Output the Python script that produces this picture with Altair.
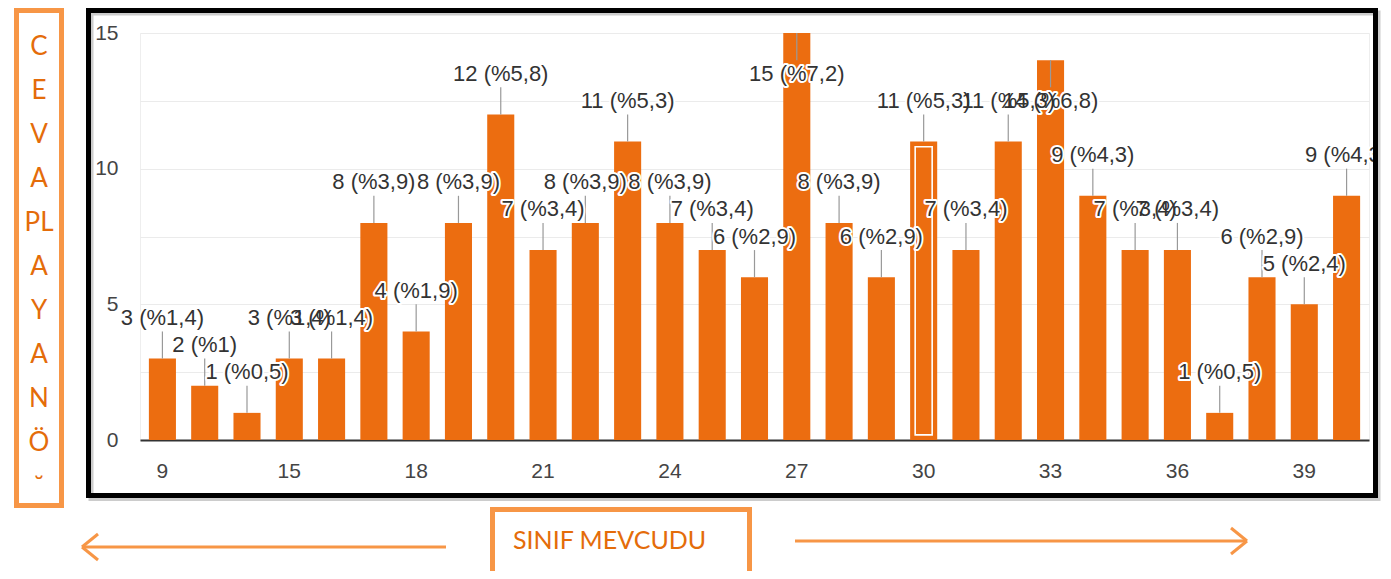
import altair as alt
import pandas as pd

# ---- data ----
categories = ["9", "13", "14", "15", "16", "17", "18", "19", "20", "21", "22", "23", "24", "25",
              "26", "27", "28", "29", "30", "31", "32", "33", "34", "35", "36", "37", "38", "39", "40"]
counts = [3, 2, 1, 3, 3, 8, 4, 8, 12, 7, 8, 11, 8, 7, 6, 15, 8, 6, 11, 7, 11, 14, 9, 7, 7, 1, 6, 5, 9]
tick_labels = ["9", "15", "18", "21", "24", "27", "30", "33", "36", "39"]
highlighted = ["30"]
y_ticks = [0, 2.5, 5, 7.5, 10, 12.5, 15]
side_letters = ["C", "E", "V", "A", "PL", "A", "Y", "A", "N", "Ö", "˘"]
x_title = "SINIF MEVCUDU"

total = sum(counts)


def make_label(v):
    p = round(v / total * 100, 1)
    s = f"{p:.1f}".replace(".", ",")
    if s.endswith(",0"):
        s = s[:-2]
    return f"{v} (%{s})"


df = pd.DataFrame({
    "cat": categories,
    "n": counts,
    "label": [make_label(v) for v in counts],
    "hl": [c in highlighted for c in categories],
})
one = pd.DataFrame({"z": [0]})

BAR = "#ec6d10"
ORANGE_LINE = "#F79646"
ORANGE_TEXT = "#E46C0A"
FONT = "Liberation Sans"

x_enc = alt.X(
    "cat:O", sort=categories,
    scale=alt.Scale(paddingInner=0.36, paddingOuter=0.21),
    axis=alt.Axis(values=tick_labels, title=None, labelAngle=0, labelFontSize=21,
                  labelColor="#444", labelFont=FONT, ticks=False, domainColor="#333",
                  domainWidth=2, labelPadding=20),
)
y_scale = alt.Scale(domain=[0, 15], nice=False, zero=True)
y_axis = alt.Axis(values=y_ticks, labelExpr="datum.value % 5 == 0 ? datum.label : ''",
                  title=None, labelFontSize=21, labelColor="#444", labelFont=FONT,
                  ticks=False, domain=False, gridColor="#ebebeb", gridWidth=1,
                  labelPadding=22)

base = alt.Chart(df).encode(x=x_enc)

bars = base.mark_bar(color=BAR).encode(y=alt.Y("n:Q", scale=y_scale, axis=y_axis))

hl = base.transform_filter("datum.hl").transform_calculate(
    top="datum.n - 0.19", bot="0.19"
).mark_bar(size=17, fillOpacity=0, stroke="white", strokeWidth=1.6).encode(
    y=alt.Y("top:Q", title=None), y2="bot:Q"
)

stems = base.transform_calculate(
    s2="datum.n + 2 <= 15 ? datum.n + 1 : datum.n - 1"
).mark_rule(color="#999999", strokeWidth=1.2).encode(
    y=alt.Y("n:Q", title=None), y2="s2:Q"
)

lab_base = base.transform_calculate(
    ly="datum.n + 2 <= 15 ? datum.n + 1.5 : datum.n - 1.5"
)
halo = lab_base.mark_text(font=FONT, fontSize=22, stroke="white", strokeWidth=4,
                          strokeJoin="round", fill="white", baseline="middle").encode(
    y=alt.Y("ly:Q", title=None), text="label:N"
)
labels = lab_base.mark_text(font=FONT, fontSize=22, fill="#333333", baseline="middle").encode(
    y=alt.Y("ly:Q", title=None), text="label:N"
)

# ---- decorations (pixel positions relative to plot origin) ----
mask = alt.Chart(one).mark_rect(fill="white").encode(
    x=alt.value(1236), x2=alt.value(1260), y=alt.value(-30), y2=alt.value(470)
)
shadow = alt.Chart(one).mark_rect(fillOpacity=0, stroke="#9a9a9a", strokeWidth=5, opacity=0.5).encode(
    x=alt.value(-49), x2=alt.value(1238), y=alt.value(-20), y2=alt.value(465.5)
)
frame = alt.Chart(one).mark_rect(fillOpacity=0, stroke="black", strokeWidth=5).encode(
    x=alt.value(-51.5), x2=alt.value(1235.5), y=alt.value(-22.5), y2=alt.value(462.5)
)
left_box = alt.Chart(one).mark_rect(fill="white", stroke=ORANGE_LINE, strokeWidth=5).encode(
    x=alt.value(-123.5), x2=alt.value(-78.5), y=alt.value(-22.5), y2=alt.value(472.5)
)
letters = alt.Chart(one).mark_text(
    text=side_letters, lineHeight=44, font="Lato", fontSize=26, color=ORANGE_TEXT,
    align="center", baseline="middle"
).encode(x=alt.value(-101), y=alt.value(14))

bottom_box = alt.Chart(one).mark_rect(fill="white", stroke=ORANGE_LINE, strokeWidth=5).encode(
    x=alt.value(352.5), x2=alt.value(609.5), y=alt.value(476.5), y2=alt.value(560)
)
title_txt = alt.Chart(one).mark_text(
    text=x_title, font="Lato", fontSize=25, color=ORANGE_TEXT, align="left", baseline="middle"
).encode(x=alt.value(373), y=alt.value(508))

arrow_style = dict(color=ORANGE_LINE, strokeWidth=3)
l_shaft = alt.Chart(one).mark_rule(**arrow_style).encode(
    x=alt.value(-57), x2=alt.value(306), y=alt.value(514), y2=alt.value(514))
l_w1 = alt.Chart(one).mark_rule(**arrow_style).encode(
    x=alt.value(-58), x2=alt.value(-42), y=alt.value(514), y2=alt.value(501))
l_w2 = alt.Chart(one).mark_rule(**arrow_style).encode(
    x=alt.value(-58), x2=alt.value(-42), y=alt.value(514), y2=alt.value(527))
r_shaft = alt.Chart(one).mark_rule(**arrow_style).encode(
    x=alt.value(655), x2=alt.value(1106), y=alt.value(508), y2=alt.value(508))
r_w1 = alt.Chart(one).mark_rule(**arrow_style).encode(
    x=alt.value(1107), x2=alt.value(1091), y=alt.value(508), y2=alt.value(495))
r_w2 = alt.Chart(one).mark_rule(**arrow_style).encode(
    x=alt.value(1107), x2=alt.value(1091), y=alt.value(508), y2=alt.value(521))

chart = alt.layer(
    bars, hl, stems, halo, labels, mask, shadow, frame, left_box, letters,
    bottom_box, title_txt, l_shaft, l_w1, l_w2, r_shaft, r_w1, r_w2
).properties(
    width=1229, height=407,
    padding={"left": 132, "top": 25, "right": 14, "bottom": 131},
    autosize=alt.AutoSizeParams(type="none"),
    background="white",
).configure_view(stroke="#eeeeee")

chart.save("out.html", embed_options={"renderer": "svg", "actions": False})
